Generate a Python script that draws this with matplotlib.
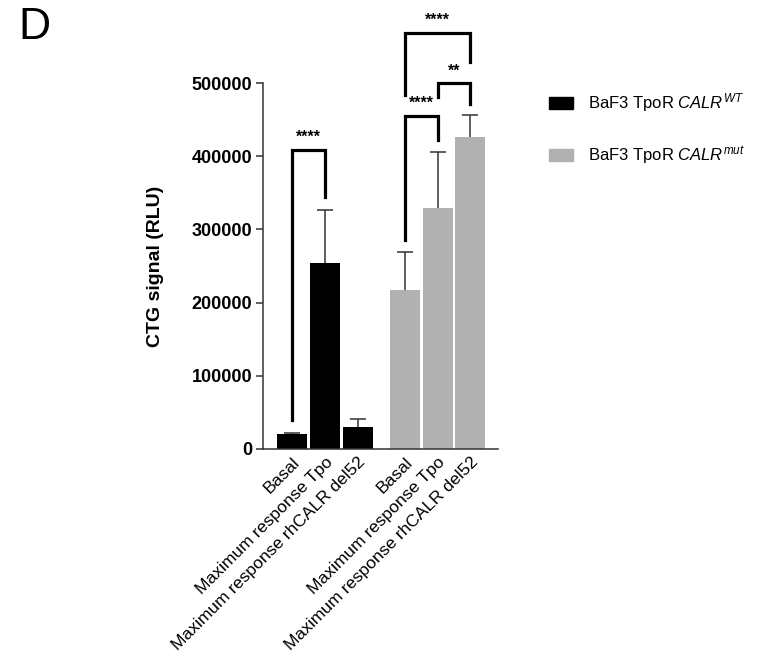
import matplotlib
matplotlib.use('Agg')
import matplotlib.pyplot as plt
from matplotlib.patches import Patch

plt.rcParams['font.family'] = ['Liberation Sans', 'DejaVu Sans']
plt.rcParams['mathtext.fontset'] = 'custom'
plt.rcParams['mathtext.rm'] = 'Liberation Sans'
plt.rcParams['mathtext.it'] = 'Liberation Sans:italic'

# Data
conditions = ['Basal', 'Maximum response Tpo', 'Maximum response rhCALR del52']
wt_means = [20000, 254000, 30500]
wt_err = [2000, 72000, 10000]
mut_means = [217000, 329000, 426500]
mut_err = [52000, 77000, 29500]
series_labels = ['BaF3 TpoR $\\mathit{CALR}^{\\mathit{WT}}$',
                 'BaF3 TpoR $\\mathit{CALR}^{\\mathit{mut}}$']
# (bar_i, bar_j, top, left leg bottom, right leg bottom, text)
brackets = [
    (0, 1, 409000, 40000, 345000, '****'),
    (3, 4, 455000, 285000, 422000, '****'),
    (4, 5, 499500, 481000, 472000, '**'),
    (3, 5, 569000, 484000, 529000, '****'),
]

BLACK = '#000000'
GRAY = '#B1B1B1'

positions = [0, 1, 2, 3.45, 4.45, 5.45]
means = wt_means + mut_means
errs = wt_err + mut_err

fig = plt.figure(figsize=(7.65, 6.65), dpi=100)
ax = fig.add_axes([0.344, 0.325, 0.307, 0.550])

ax.bar(positions[:3], wt_means, width=0.92, color=BLACK, label=series_labels[0])
ax.bar(positions[3:], mut_means, width=0.92, color=GRAY, label=series_labels[1])
_, caps, _ = ax.errorbar(positions, means, yerr=[[0] * 6, errs], fmt='none',
                         ecolor='#333333', elinewidth=1.1, capsize=6, capthick=1.1)
caps[0].set_visible(False)  # no cap at the bar top

for i, j, top, lb, rb, txt in brackets:
    xi, xj = positions[i], positions[j]
    ax.plot([xi, xi, xj, xj], [lb, top, top, rb], color='black', lw=2.3,
            clip_on=False, solid_joinstyle='miter')
    ax.text((xi + xj) / 2, top + 7000, txt, ha='center', va='bottom',
            fontsize=11.5, fontweight='bold', clip_on=False)

ax.set_xlim(-0.89, 6.3)
ax.set_ylim(0, 500000)
ax.set_yticks(range(0, 500001, 100000))
ax.set_yticklabels([str(v) for v in range(0, 500001, 100000)],
                   fontsize=13, fontweight='bold')
ax.set_xticks(positions)
ax.set_xticklabels(conditions * 2, rotation=45, ha='right',
                   rotation_mode='anchor', fontsize=12.5)
ax.tick_params(axis='x', length=0, pad=4)
ax.tick_params(axis='y', length=5, width=1.1, color='#333333', pad=3)
ax.spines['top'].set_visible(False)
ax.spines['right'].set_visible(False)
for s in ['left', 'bottom']:
    ax.spines[s].set_color('#333333')
    ax.spines[s].set_linewidth(1.1)
ax.set_ylabel('CTG signal (RLU)', fontsize=14, fontweight='bold', labelpad=20)

handles = [Patch(color=BLACK), Patch(color=GRAY)]
fig.legend(handles, series_labels, loc='upper left', bbox_to_anchor=(0.698, 0.885),
           frameon=False, fontsize=12, handlelength=1.45, handleheight=0.72,
           labelspacing=1.8, handletextpad=0.9)

fig.text(0.024, 0.99, 'D', fontsize=32, va='top', ha='left')

fig.savefig('out.png', dpi=100)
